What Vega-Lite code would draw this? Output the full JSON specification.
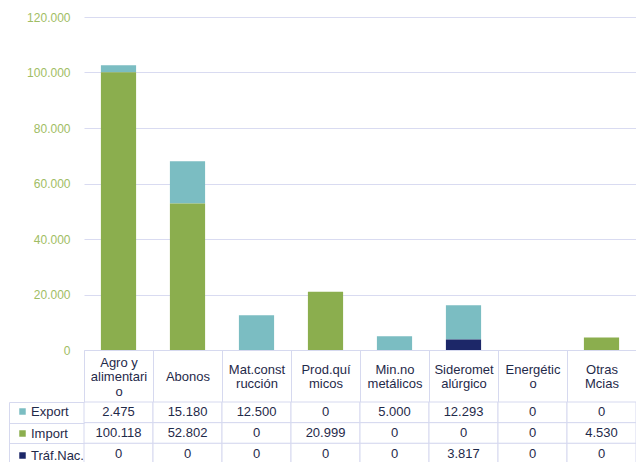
{
  "$schema": "https://vega.github.io/schema/vega-lite/v6.json",
  "background": "white",
  "padding": {"left": 8, "top": 11, "right": 0, "bottom": 0},
  "config": {
    "font": "Liberation Sans",
    "view": {"stroke": null},
    "locale": {"number": {"decimal": ",", "thousands": ".", "grouping": [3], "currency": ["", " €"]}}
  },
  "data": {"values": [
    {"cat": "Agro y alimentario", "series": "Export", "value": 2475},
    {"cat": "Agro y alimentario", "series": "Import", "value": 100118},
    {"cat": "Agro y alimentario", "series": "Tráf.Nac.", "value": 0},
    {"cat": "Abonos", "series": "Export", "value": 15180},
    {"cat": "Abonos", "series": "Import", "value": 52802},
    {"cat": "Abonos", "series": "Tráf.Nac.", "value": 0},
    {"cat": "Mat.construcción", "series": "Export", "value": 12500},
    {"cat": "Mat.construcción", "series": "Import", "value": 0},
    {"cat": "Mat.construcción", "series": "Tráf.Nac.", "value": 0},
    {"cat": "Prod.químicos", "series": "Export", "value": 0},
    {"cat": "Prod.químicos", "series": "Import", "value": 20999},
    {"cat": "Prod.químicos", "series": "Tráf.Nac.", "value": 0},
    {"cat": "Min.no metálicos", "series": "Export", "value": 5000},
    {"cat": "Min.no metálicos", "series": "Import", "value": 0},
    {"cat": "Min.no metálicos", "series": "Tráf.Nac.", "value": 0},
    {"cat": "Siderometalúrgico", "series": "Export", "value": 12293},
    {"cat": "Siderometalúrgico", "series": "Import", "value": 0},
    {"cat": "Siderometalúrgico", "series": "Tráf.Nac.", "value": 3817},
    {"cat": "Energético", "series": "Export", "value": 0},
    {"cat": "Energético", "series": "Import", "value": 0},
    {"cat": "Energético", "series": "Tráf.Nac.", "value": 0},
    {"cat": "Otras Mcias", "series": "Export", "value": 0},
    {"cat": "Otras Mcias", "series": "Import", "value": 4530},
    {"cat": "Otras Mcias", "series": "Tráf.Nac.", "value": 0}
  ]},
  "bounds": "flush",
  "spacing": 52,
  "resolve": {"legend": {"color": "independent"}, "scale": {"color": "independent"}},
  "vconcat": [
    {
      "width": 552,
      "height": 333,
      "mark": {"type": "bar", "width": {"band": 0.51}},
      "encoding": {
        "x": {
          "field": "cat", "type": "nominal",
          "sort": ["Agro y alimentario", "Abonos", "Mat.construcción", "Prod.químicos", "Min.no metálicos", "Siderometalúrgico", "Energético", "Otras Mcias"],
          "scale": {"paddingInner": 0, "paddingOuter": 0},
          "axis": {
            "title": null, "orient": "bottom", "tickBand": "extent", "tickSize": 52,
            "tickColor": "#d6d9ef", "domainColor": "#d6d9ef", "grid": false,
            "labelExpr": "{'Agro y alimentario': ['Agro y','alimentari','o'], 'Abonos': ['Abonos'], 'Mat.construcción': ['Mat.const','rucción'], 'Prod.químicos': ['Prod.quí','micos'], 'Min.no metálicos': ['Min.no','metálicos'], 'Siderometalúrgico': ['Sideromet','alúrgico'], 'Energético': ['Energétic','o'], 'Otras Mcias': ['Otras','Mcias']}[datum.label]",
            "labelAngle": 0, "labelBaseline": "middle",
            "labelPadding": {"condition": [
              {"test": "datum.value === 'Agro y alimentario'", "value": -40},
              {"test": "datum.value === 'Abonos'", "value": -26}
            ], "value": -33},
            "labelFontSize": 13, "labelColor": "#1f2a4a", "labelLineHeight": 14.5,
            "labelOverlap": false
          }
        },
        "y": {
          "field": "value", "type": "quantitative", "stack": "zero",
          "scale": {"domain": [0, 120000], "nice": false},
          "axis": {
            "title": null, "values": [0, 20000, 40000, 60000, 80000, 100000, 120000],
            "format": ",.0f", "domain": false, "ticks": false,
            "gridColor": "#d9dbf1", "labelColor": "#9fbd64", "labelPadding": 14, "labelFontSize": 12
          }
        },
        "color": {
          "field": "series", "type": "nominal",
          "scale": {"domain": ["Export", "Import", "Tráf.Nac."], "range": ["#7bbdc2", "#8bae4e", "#1c2768"]},
          "legend": {
            "orient": "none", "legendX": -68, "legendY": 388, "direction": "vertical",
            "title": null, "symbolType": "square", "symbolSize": 42, "symbolStrokeWidth": 0,
            "labelFontSize": 13, "labelColor": "#1f2a4a", "labelOffset": 2, "rowPadding": 8, "padding": 0
          }
        },
        "order": {"field": "series", "sort": "descending"}
      }
    },
    {
      "width": 552,
      "height": 62,
      "encoding": {
        "x": {
          "field": "cat", "type": "nominal",
          "sort": ["Agro y alimentario", "Abonos", "Mat.construcción", "Prod.químicos", "Min.no metálicos", "Siderometalúrgico", "Energético", "Otras Mcias"],
          "scale": {"paddingInner": 0, "paddingOuter": 0},
          "axis": null
        },
        "y": {
          "field": "series", "type": "nominal",
          "sort": ["Export", "Import", "Tráf.Nac."],
          "scale": {"paddingInner": 0, "paddingOuter": 0},
          "axis": {
            "title": null, "offset": 75, "labels": false, "tickBand": "extent",
            "tickSize": -75, "tickColor": "#d6d9ef", "domainColor": "#d6d9ef"
          }
        }
      },
      "layer": [
        {"mark": {"type": "rect", "fill": "white", "stroke": "#d6d9ef", "strokeWidth": 1}},
        {
          "mark": {"type": "text", "fontSize": 13, "color": "#1f2a4a"},
          "encoding": {"text": {"field": "value", "type": "quantitative", "format": ",.0f"}}
        }
      ]
    }
  ]
}
